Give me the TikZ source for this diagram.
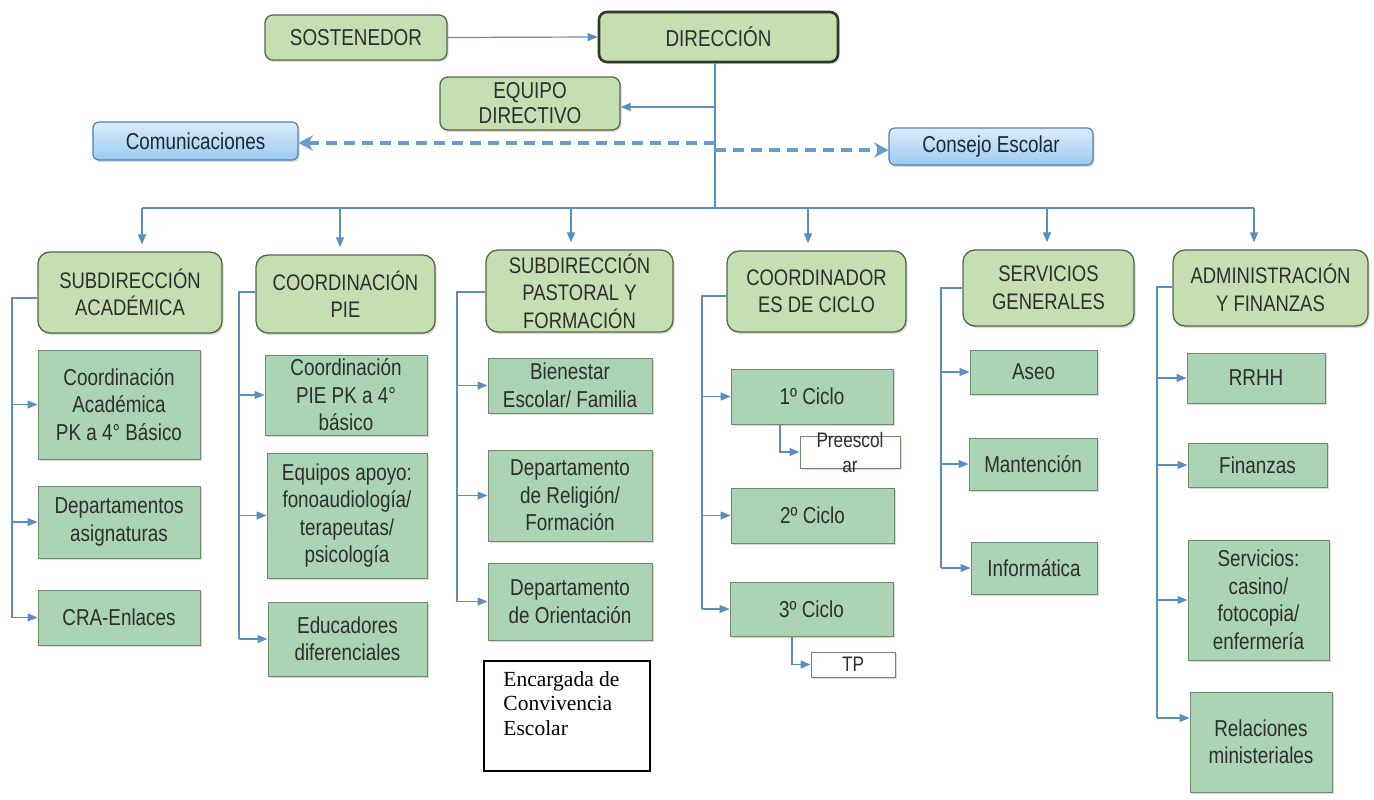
\documentclass[tikz,border=0pt]{standalone}
\usepackage{fontspec}
\usetikzlibrary{arrows.meta,shadows}
\newfontfamily\arn{Liberation Sans}[FakeStretch=0.82]
\newfontfamily\tms{Liberation Serif}
\definecolor{linec}{HTML}{5A8EBE}
\definecolor{dashc}{HTML}{6A9CCB}
\definecolor{lvlfill}{HTML}{C6DFB2}
\definecolor{lvlborder}{HTML}{55664A}
\definecolor{dirborder}{HTML}{2E3A26}
\definecolor{childfill}{HTML}{AAD4B3}
\definecolor{childborder}{HTML}{6E8A6B}
\definecolor{bluetop}{HTML}{DCECFB}
\definecolor{bluebot}{HTML}{9CCAF0}
\definecolor{blueborder}{HTML}{4F80B6}
\definecolor{txt}{HTML}{2E2E2E}
\definecolor{bluetxt}{HTML}{1E2833}
\tikzset{
  shad/.style={drop shadow={shadow xshift=1.5pt,shadow yshift=-2pt,opacity=0.3}},
  conn/.style={draw=linec, line width=1.2pt},
  arr/.style={conn, -{Triangle[length=10pt,width=8pt]}},
  dasharr/.style={draw=dashc, line width=3.5pt, dash pattern=on 11pt off 7pt,
     -{Stealth[length=14pt,width=15pt,inset=4pt]}},
  topbox/.style={shad, draw=lvlborder, line width=1.3pt, fill=lvlfill, rounded corners=8pt,
     inner sep=0pt, align=center, text=txt, font=\arn\fontsize{23}{25}\selectfont},
  lvlbox/.style={topbox, rounded corners=12pt, font=\arn\fontsize{22.5}{27.5}\selectfont},
  childbox/.style={shad, draw=childborder, line width=1pt, fill=childfill, inner sep=0pt,
     align=center, text=txt, font=\arn\fontsize{23}{27.5}\selectfont},
  smallbox/.style={shad, draw=childborder, line width=1pt, fill=white, inner sep=0pt,
     align=center, text=txt, font=\arn\fontsize{21}{25}\selectfont},
  bluebox/.style={shad, draw=blueborder, line width=1.2pt, top color=bluetop, bottom color=bluebot,
     rounded corners=6pt, inner sep=0pt, align=center, text=bluetxt, font=\arn\fontsize{23}{25}\selectfont},
}
\begin{document}
\begin{tikzpicture}[x=1pt,y=-1pt]
\useasboundingbox (0,0) rectangle (1374,800);
% top
\node[topbox, minimum width=182pt, minimum height=45pt] (sost) at (356,37.5) {SOSTENEDOR};
\node[topbox, draw=dirborder, line width=2.6pt, minimum width=239pt, minimum height=50pt] (dir) at (718.5,37) {DIRECCIÓN};
\node[topbox, minimum width=180pt, minimum height=53pt] (eq) at (530,103.5) {EQUIPO\\DIRECTIVO};
\node[bluebox, minimum width=205pt, minimum height=38pt] (com) at (195.5,141) {Comunicaciones};
\node[bluebox, minimum width=204pt, minimum height=37pt] (cons) at (991,146.5) {Consejo Escolar};

\coordinate (trunk) at (715,208);
\coordinate (teq) at (715,107);
\coordinate (tcl) at (715,143);
\coordinate (tcr) at (715,150);
\draw[arr] (sost.east) -- (dir.west);
\draw[conn] (dir.south -| trunk) -- (trunk);
\draw[arr] (teq) -- (teq -| eq.east);
\draw[dasharr] (tcl) -- (tcl -| com.east);
\draw[dasharr] (tcr) -- (tcr -| cons.west);

% level 2
\node[lvlbox, minimum width=184pt, minimum height=81pt] (l1) at (130,292.5) {SUBDIRECCIÓN\\ACADÉMICA};
\node[lvlbox, minimum width=179pt, minimum height=78pt] (l2) at (345.5,294) {COORDINACIÓN\\PIE};
\node[lvlbox, minimum width=187pt, minimum height=82pt] (l3) at (579.5,291) {SUBDIRECCIÓN\\PASTORAL Y\\FORMACIÓN};
\node[lvlbox, minimum width=179pt, minimum height=81pt] (l4) at (816.5,291.5) {COORDINADOR\\ES DE CICLO};
\node[lvlbox, minimum width=171pt, minimum height=76pt] (l5) at (1048.5,288) {SERVICIOS\\GENERALES};
\node[lvlbox, minimum width=195pt, minimum height=76pt] (l6) at (1270.5,288) {ADMINISTRACIÓN\\Y FINANZAS};

\coordinate (b1) at (142,208);
\coordinate (b2) at (340,208);
\coordinate (b3) at (571,208);
\coordinate (b4) at (808,208);
\coordinate (b5) at (1047,208);
\coordinate (b6) at (1254,208);
\draw[conn] (b1) -- (b6);
\foreach \b/\l in {b1/l1,b2/l2,b3/l3,b4/l4,b5/l5,b6/l6}
  \draw[arr, shorten >=7pt] (\b) -- (\b |- \l.north);

% group 1
\node[childbox, minimum width=162pt, minimum height=109pt] (c11) at (119,404.5) {Coordinación\\Académica\\PK a 4° Básico};
\node[childbox, minimum width=162pt, minimum height=72pt] (c12) at (119,522) {Departamentos\\asignaturas};
\node[childbox, minimum width=162pt, minimum height=55pt] (c13) at (119,617.5) {CRA-Enlaces};
% group 2
\node[childbox, minimum width=162pt, minimum height=80pt] (c21) at (346,395) {Coordinación\\PIE PK a 4°\\básico};
\node[childbox, minimum width=160pt, minimum height=125pt] (c22) at (347,515.5) {Equipos apoyo:\\fonoaudiología/\\terapeutas/\\psicología};
\node[childbox, minimum width=159pt, minimum height=74pt] (c23) at (347.5,639) {Educadores\\diferenciales};
% group 3
\node[childbox, minimum width=164pt, minimum height=55pt] (c31) at (570,385.5) {Bienestar\\Escolar/ Familia};
\node[childbox, minimum width=164pt, minimum height=91pt] (c32) at (570,495.5) {Departamento\\de Religión/\\Formación};
\node[childbox, minimum width=164pt, minimum height=77pt] (c33) at (570,601.5) {Departamento\\de Orientación};
\node[draw=black, line width=1.5pt, fill=white, minimum width=166pt, minimum height=110pt, inner sep=0pt] (enc) at (567,716) {};
\node[anchor=north west, inner sep=0pt, align=left, font=\tms\fontsize{21.5}{24.5}\selectfont, text=black] (enctxt) at ([xshift=20pt,yshift=-11pt]enc.north west) {Encargada de\\Convivencia\\Escolar};
% group 4
\node[childbox, minimum width=162pt, minimum height=55pt] (c41) at (812,396.5) {1º Ciclo};
\node[smallbox, minimum width=100pt, minimum height=32pt] (pre) at (850,452) {};
\node[inner sep=0pt, align=center, text=txt, font=\arn\fontsize{21}{25}\selectfont] (pretxt) at (pre.center) {Preescol\\ar};
\node[childbox, minimum width=163pt, minimum height=55pt] (c42) at (812.5,515.5) {2º Ciclo};
\node[childbox, minimum width=163pt, minimum height=54pt] (c43) at (811.5,609) {3º Ciclo};
\node[smallbox, minimum width=84pt, minimum height=25pt] (tp) at (853,664.5) {TP};
% group 5
\node[childbox, minimum width=127pt, minimum height=44pt] (c51) at (1033.5,372) {Aseo};
\node[childbox, minimum width=128pt, minimum height=52pt] (c52) at (1033,464) {Mantención};
\node[childbox, minimum width=126pt, minimum height=52pt] (c53) at (1034,568) {Informática};
% group 6
\node[childbox, minimum width=138pt, minimum height=50pt] (c61) at (1256,378) {RRHH};
\node[childbox, minimum width=139pt, minimum height=44pt] (c62) at (1257.5,465) {Finanzas};
\node[childbox, minimum width=141pt, minimum height=120pt] (c63) at (1258.5,600) {Servicios:\\casino/\\fotocopia/\\enfermería};
\node[childbox, minimum width=142pt, minimum height=100pt] (c64) at (1261,742) {Relaciones\\ministeriales};

% brackets
\coordinate (g1) at (12,298);
\coordinate (g2) at (239,292);
\coordinate (g3) at (457,292);
\coordinate (g4) at (702,296);
\coordinate (g5) at (941,288);
\coordinate (g6) at (1157,287);
\coordinate (a64) at (1157,718);
\draw[conn] (g1 -| l1.west) -- (g1) -- (g1 |- c13.west);
\draw[conn] (g2 -| l2.west) -- (g2) -- (g2 |- c23.west);
\draw[conn] (g3 -| l3.west) -- (g3) -- (g3 |- c33.west);
\draw[conn] (g4 -| l4.west) -- (g4) -- (g4 |- c43.west);
\draw[conn] (g5 -| l5.west) -- (g5) -- (g5 |- c53.west);
\draw[conn] (g6 -| l6.west) -- (g6) -- (a64);
\foreach \g/\c in {g1/c11,g1/c12,g1/c13,g2/c21,g2/c22,g2/c23,g3/c31,g3/c32,g3/c33,
                   g4/c41,g4/c42,g4/c43,g5/c51,g5/c52,g5/c53,g6/c61,g6/c62,g6/c63}
  \draw[arr] (\g |- \c.west) -- (\c.west);
\draw[arr] (a64) -- (a64 -| c64.west);
\coordinate (p1) at (780,452);
\coordinate (p2) at (792,664.5);
\draw[arr] (p1 |- c41.south) -- (p1) -- (pre.west);
\draw[arr] (p2 |- c43.south) -- (p2) -- (tp.west);
\end{tikzpicture}
\end{document}
